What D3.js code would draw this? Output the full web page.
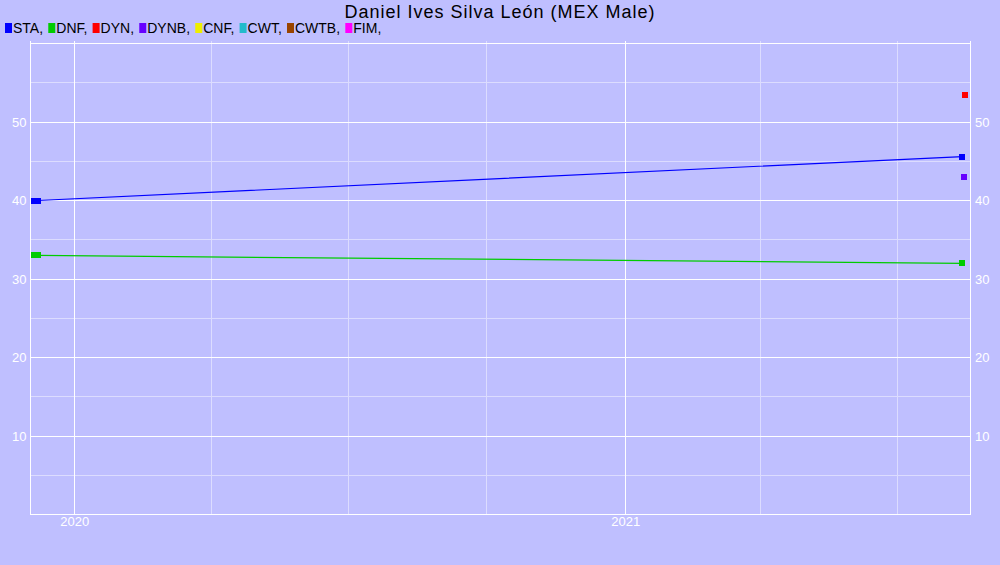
<!DOCTYPE html>
<html>
<head>
<meta charset="utf-8">
<script src="https://cdn.jsdelivr.net/npm/d3@7"></script>
<style>
  body { margin: 0; background: #bfbfff; }
  svg { display: block; font-family: "Liberation Sans", Arial, sans-serif; }
</style>
</head>
<body>
<div id="chart-area"></div>
<script>
const title = "Daniel Ives Silva León (MEX Male)"
const legendNames = ["STA", "DNF", "DYN", "DYNB", "CNF", "CWT", "CWTB", "FIM"]
const legendColors = ["#0000ff", "#00cc00", "#ff0000", "#6600ff", "#eeee00", "#22bbcc", "#994400", "#ff00ff"]

// dates and values per discipline
const staDates = ["2019-12-05", "2019-12-08", "2021-08-13"]
const staValues = [40, 40, 45.6]
const dnfDates = ["2019-12-05", "2019-12-08", "2021-08-13"]
const dnfValues = [33, 33, 32]
const dynDates = ["2021-08-15"]
const dynValues = [53.5]
const dynbDates = ["2021-08-14"]
const dynbValues = [43]

const yTicks = [10, 20, 30, 40, 50]
const yMinor = [5, 15, 25, 35, 45, 55]
const xDomain = ["2019-12-03", "2021-08-18"]

const svgWidth = 1000
const svgHeight = 565
const margin = { left: 30.5, right: 30, top: 43.5, bottom: 50.5 }

const parse = d3.timeParse("%Y-%m-%d")

const svg = d3.select("#chart-area")
    .append("svg")
    .attr("width", svgWidth)
    .attr("height", svgHeight)

svg.append("rect").attr("width", svgWidth).attr("height", svgHeight).attr("fill", "#bfbfff")

const x = d3.scaleTime()
    .domain(xDomain.map(parse))
    .range([margin.left, svgWidth - margin.right])
const y = d3.scaleLinear()
    .domain([0, 60])
    .range([svgHeight - margin.bottom, margin.top])

// grid
const grid = svg.append("g").attr("shape-rendering", "crispEdges")
const quarters = d3.timeMonth.every(3).range(...x.domain()).filter(d => d.getMonth() !== 0)
const years = d3.timeYear.range(...x.domain())
grid.selectAll(".vminor").data(quarters).enter().append("line")
    .attr("x1", d => x(d)).attr("x2", d => x(d))
    .attr("y1", margin.top - 3).attr("y2", y(0))
    .attr("stroke", "#dcdcff")
grid.selectAll(".hminor").data(yMinor).enter().append("line")
    .attr("x1", margin.left).attr("x2", svgWidth - margin.right)
    .attr("y1", d => y(d)).attr("y2", d => y(d))
    .attr("stroke", "#dcdcff")
grid.selectAll(".vmajor").data(years).enter().append("line")
    .attr("x1", d => x(d)).attr("x2", d => x(d))
    .attr("y1", margin.top - 3).attr("y2", y(0))
    .attr("stroke", "#ffffff")
grid.selectAll(".hmajor").data(yTicks.concat([60])).enter().append("line")
    .attr("x1", margin.left).attr("x2", svgWidth - margin.right)
    .attr("y1", d => y(d)).attr("y2", d => y(d))
    .attr("stroke", "#ffffff")

// axes frame
grid.append("line").attr("x1", margin.left).attr("x2", margin.left)
    .attr("y1", margin.top - 3).attr("y2", y(0)).attr("stroke", "#fff")
grid.append("line").attr("x1", svgWidth - margin.right).attr("x2", svgWidth - margin.right)
    .attr("y1", margin.top - 3).attr("y2", y(0)).attr("stroke", "#fff")
grid.append("line").attr("x1", margin.left).attr("x2", svgWidth - margin.right)
    .attr("y1", y(0)).attr("y2", y(0)).attr("stroke", "#fff")

// tick labels
const leftAxis = d3.axisLeft(y).tickValues(yTicks).tickSize(0).tickPadding(4)
const rightAxis = d3.axisRight(y).tickValues(yTicks).tickSize(0).tickPadding(5)
const bottomAxis = d3.axisBottom(x).tickValues(years).tickFormat(d3.timeFormat("%Y")).tickSize(0).tickPadding(2)

function styleAxis(g) {
    g.select(".domain").remove()
    g.selectAll("text").attr("fill", "#ffffff").style("font-size", "13px")
        .style("font-family", "'Liberation Sans', Arial, sans-serif")
}
svg.append("g").attr("transform", `translate(${margin.left},0)`).call(leftAxis).call(styleAxis)
svg.append("g").attr("transform", `translate(${svgWidth - margin.right},0)`).call(rightAxis).call(styleAxis)
svg.append("g").attr("transform", `translate(0,${y(0)})`).call(bottomAxis).call(styleAxis)

// series
const series = [
    { name: "STA", dates: staDates, values: staValues },
    { name: "DNF", dates: dnfDates, values: dnfValues },
    { name: "DYN", dates: dynDates, values: dynValues },
    { name: "DYNB", dates: dynbDates, values: dynbValues }
]
const line = d3.line().x(d => x(d.date)).y(d => y(d.value))

series.forEach(s => {
    const color = legendColors[legendNames.indexOf(s.name)]
    const pts = s.dates.map((d, i) => ({ date: parse(d), value: s.values[i] }))
    if (pts.length > 1) {
        svg.append("path").datum(pts)
            .attr("d", line)
            .attr("fill", "none")
            .attr("stroke", color)
            .attr("stroke-width", 1.2)
    }
    svg.selectAll(null).data(pts).enter().append("rect")
        .attr("x", d => x(d.date) - 3)
        .attr("y", d => y(d.value) - 3)
        .attr("width", 6).attr("height", 6)
        .attr("fill", color)
        .attr("shape-rendering", "crispEdges")
})

// title
svg.append("text")
    .attr("x", svgWidth / 2).attr("y", 17.5)
    .attr("text-anchor", "middle")
    .style("font-size", "18px")
    .style("letter-spacing", "1px")
    .attr("fill", "#000")
    .text(title)

// legend
let lx = 5
const legend = svg.append("g")
legendNames.forEach((name, i) => {
    legend.append("rect").attr("x", lx).attr("y", 23).attr("width", 7).attr("height", 10)
        .attr("fill", legendColors[i])
    const t = legend.append("text").attr("x", lx + 8).attr("y", 33)
        .style("font-size", "14px").attr("fill", "#000")
        .text(name + ",")
    lx += t.node().getComputedTextLength() + 13.2
})
</script>
</body>
</html>
